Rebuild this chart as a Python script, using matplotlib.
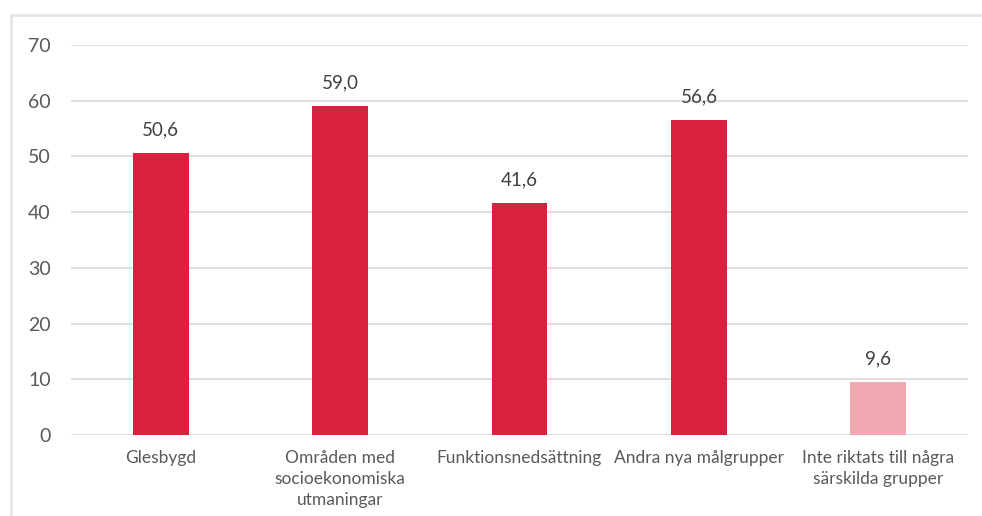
import matplotlib
matplotlib.use("Agg")
import matplotlib.pyplot as plt
from matplotlib.lines import Line2D

categories = ["Glesbygd", "Områden med\nsocioekonomiska\nutmaningar", "Funktionsnedsättning",
              "Andra nya målgrupper", "Inte riktats till några\nsärskilda grupper"]
values = [50.6, 59.0, 41.6, 56.6, 9.6]
colors = ["#D9203E", "#D9203E", "#D9203E", "#D9203E", "#F0A8B1"]
yticks = [0, 10, 20, 30, 40, 50, 60, 70]

plt.rcParams['font.family'] = ['Lato', 'DejaVu Sans']

fig = plt.figure(figsize=(9.82, 5.16), dpi=100)
ax = fig.add_axes([71/982, 1-435/516, (968-71)/982, (435-45)/516])

x = list(range(len(categories)))
bars = ax.bar(x, values, width=0.31, color=colors, zorder=3)
for xi, v in zip(x, values):
    ax.text(xi, v + 2.6, f"{v:.1f}".replace(".", ","), ha="center", va="bottom",
            fontsize=13.5, color="#404040")

ax.set_xlim(-0.5, len(categories) - 0.5)
ax.set_ylim(0, 70)
ax.set_yticks(yticks)
ax.set_yticklabels([str(t) for t in yticks], fontsize=14, color="#595959")
ax.set_xticks(x)
ax.set_xticklabels(categories, fontsize=12.5, color="#595959", linespacing=1.38)
ax.tick_params(axis="both", length=0)
ax.tick_params(axis="y", pad=14.5)
ax.tick_params(axis="x", pad=11)
ax.yaxis.grid(True, color="#D9D9D9", linewidth=1.2, zorder=0)
for s in ax.spines.values():
    s.set_visible(False)

# outer chart border (top and left)
fig.add_artist(Line2D([11/982, 1.0], [1-15/516, 1-15/516], color="#E6E6E6", linewidth=2, transform=fig.transFigure))
fig.add_artist(Line2D([11/982, 11/982], [0, 1-15/516], color="#E6E6E6", linewidth=2, transform=fig.transFigure))

fig.savefig("out.png", dpi=100)
